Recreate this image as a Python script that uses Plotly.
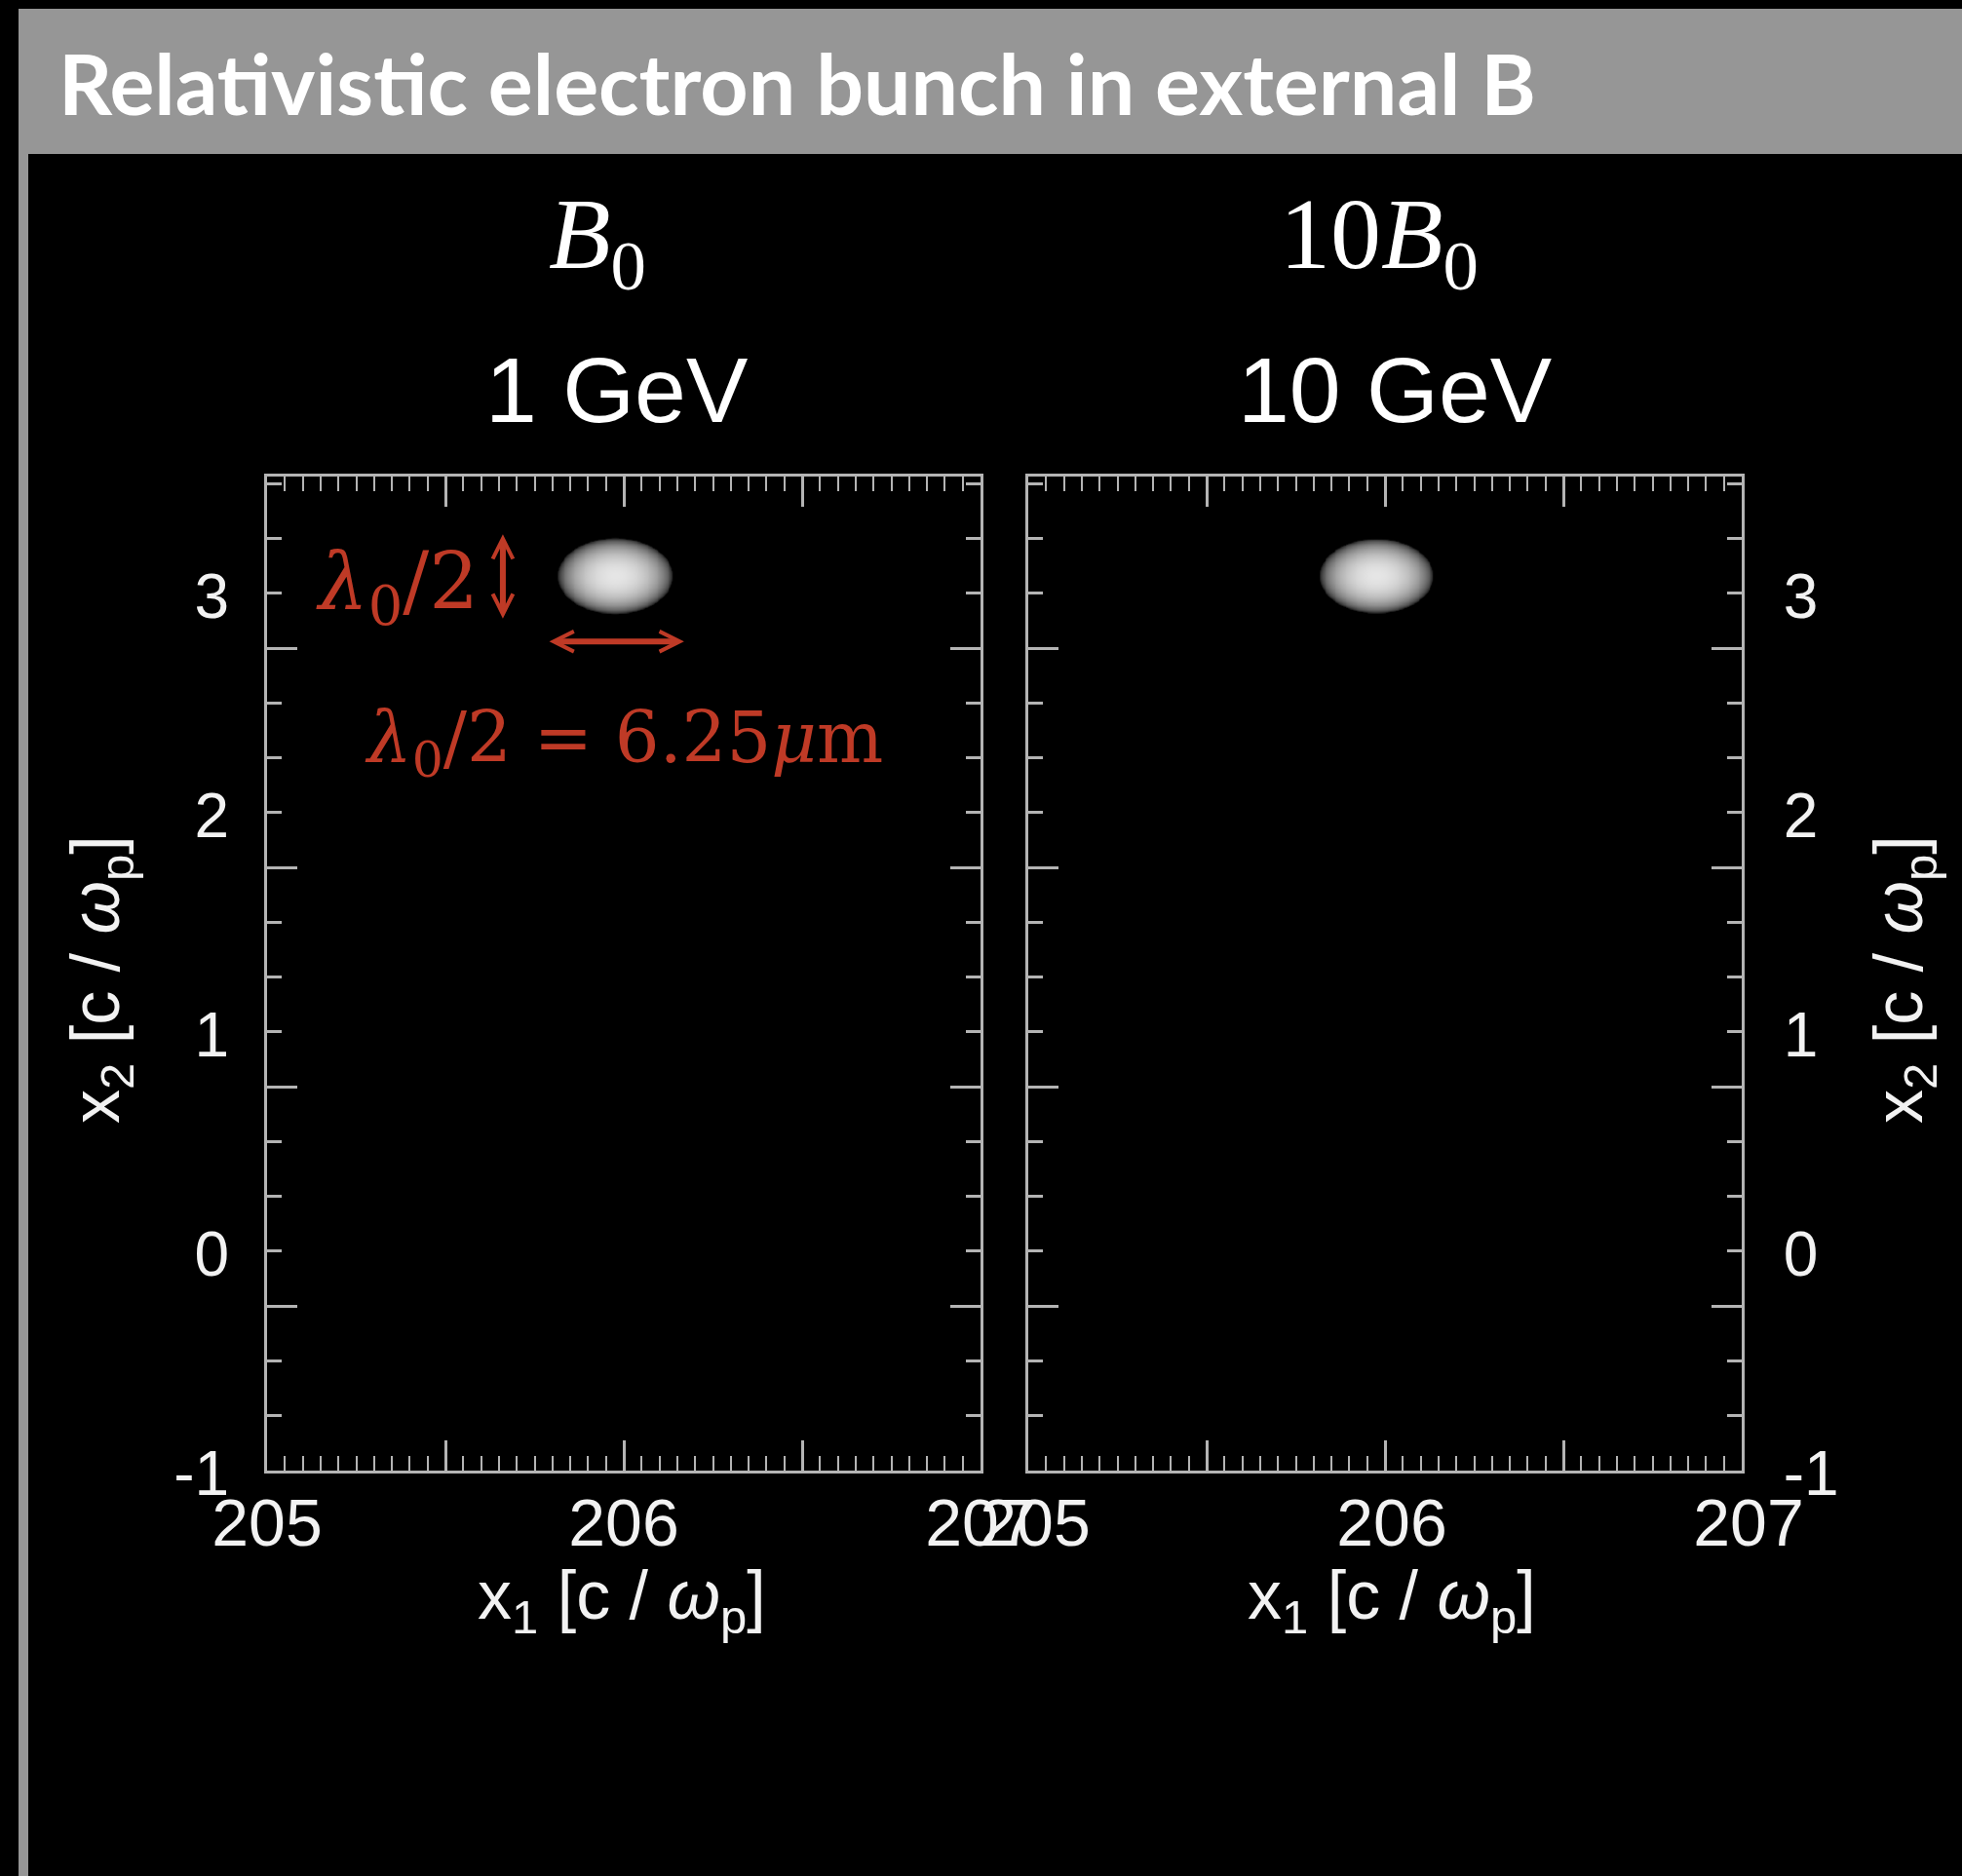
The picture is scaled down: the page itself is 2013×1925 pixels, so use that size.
import numpy as np
import plotly.graph_objects as go

W, H = 2013, 1925

# ---- text content -------------------------------------------------------
slide_title = "Relativistic electron bunch in external B"
field_labels = ["<i>B</i><sub>0</sub>", "10<i>B</i><sub>0</sub>"]
energy_labels = ["1 GeV", "10 GeV"]
x1_title = "x<sub>1</sub> [c / <i>ω</i><sub>p</sub>]"
x2_title = "x<sub>2</sub> [c / <i>ω</i><sub>p</sub>]"
size_label = "<i>λ</i><sub>0</sub>/2"
size_value_label = "<i>λ</i><sub>0</sub>/2 = 6.25<i>μ</i>m"

# ---- axes ---------------------------------------------------------------
x1_range = [205.0, 207.0]
x1_tick0, x1_major_step, x1_minor_step = 205.0, 0.5, 0.05

x2_range = [-1.0, 3.533]
x2_tick_vals = [-1.0, -0.75, -0.5, 0.0, 0.25, 0.5, 1.0, 1.25, 1.5,
                2.0, 2.25, 2.5, 3.0, 3.25, 3.5]
x2_tick_text = ["-1", "", "", "0", "", "", "1", "", "",
                "2", "", "", "3", "", ""]
x2_long_ticks = [-0.25, 0.75, 1.75, 2.75]

# ---- bunch charge density (centroid and semi-axes, c/ωp) ----------------
bunch_x1 = [205.975, 205.975]
bunch_x2 = [3.08, 3.08]
bunch_a1 = [0.162, 0.160]
bunch_a2 = [0.173, 0.170]
bunch_peak = [0.90, 0.90]

# ---- colours ------------------------------------------------------------
frame_col = "#b4b4b4"
label_col = "#f2f2f2"
red = "#bf3a26"
header_gray = "#969696"


def px(x):
    return x / W


def py(y):
    return 1 - y / H


fig = go.Figure()

for i in range(2):
    gx = np.linspace(bunch_x1[i] - 0.2, bunch_x1[i] + 0.2, 161)
    gy = np.linspace(bunch_x2[i] - 0.2, bunch_x2[i] + 0.2, 161)
    X, Y = np.meshgrid(gx, gy)
    r2 = ((X - bunch_x1[i]) / bunch_a1[i]) ** 2 + ((Y - bunch_x2[i]) / bunch_a2[i]) ** 2
    rho = bunch_peak[i] * np.sqrt(np.clip(1 - r2, 0, None))
    fig.add_trace(go.Heatmap(
        x=gx, y=gy, z=rho, zmin=0, zmax=1, zsmooth="best",
        colorscale=[[0, "black"], [1, "white"]], showscale=False,
        hoverinfo="skip",
        xaxis="x" if i == 0 else "x2", yaxis="y" if i == 0 else "y2",
    ))

panel_x = [[274, 1006], [1055, 1787]]
panel_y = [489, 1509]

xaxis_common = dict(
    range=x1_range, tickmode="linear", tick0=x1_tick0, dtick=x1_major_step,
    ticklabelstep=2,
    ticks="inside", ticklen=31, tickwidth=3, tickcolor=frame_col,
    showline=True, linecolor=frame_col, linewidth=3, mirror="ticks",
    minor=dict(tickmode="linear", tick0=x1_tick0, dtick=x1_minor_step, ticks="inside",
               ticklen=15, tickwidth=2, tickcolor=frame_col, showgrid=False),
    showgrid=False, zeroline=False, automargin=False,
    tickfont=dict(family="Liberation Sans", size=68, color=label_col),
    ticklabelstandoff=-8,
)
yaxis_common = dict(
    range=x2_range, tickmode="array", tickvals=x2_tick_vals, ticktext=x2_tick_text,
    ticks="inside", ticklen=15, tickwidth=3, tickcolor=frame_col,
    showline=True, linecolor=frame_col, linewidth=3, mirror="ticks",
    minor=dict(tickmode="array", tickvals=x2_long_ticks, ticks="inside",
               ticklen=31, tickwidth=3, tickcolor=frame_col, showgrid=False),
    showgrid=False, zeroline=False, automargin=False,
    tickfont=dict(family="Liberation Sans", size=64, color=label_col),
    ticklabelshift=3,
    domain=[py(panel_y[1]), py(panel_y[0])],
)

fig.update_layout(
    template="none",
    width=W, height=H, margin=dict(l=0, r=0, t=0, b=0, pad=0, autoexpand=False),
    paper_bgcolor="black", plot_bgcolor="black", showlegend=False,
    xaxis=dict(xaxis_common, domain=[px(panel_x[0][0]), px(panel_x[0][1])], anchor="y"),
    xaxis2=dict(xaxis_common, domain=[px(panel_x[1][0]), px(panel_x[1][1])], anchor="y2",
                ticklabelshift=7),
    yaxis=dict(yaxis_common, anchor="x", side="left", ticklabelstandoff=23),
    yaxis2=dict(yaxis_common, anchor="x2", side="right", ticklabelstandoff=27),
)

# slide header bar and left edge strip
fig.add_shape(type="rect", xref="paper", yref="paper", x0=px(19), x1=1.0,
              y0=py(158), y1=py(9), fillcolor=header_gray, line_width=0, layer="below")
fig.add_shape(type="rect", xref="paper", yref="paper", x0=px(19), x1=px(29),
              y0=0, y1=py(158), fillcolor=header_gray, line_width=0, layer="below")

ann = []
ann.append(dict(text=slide_title, x=px(58), y=py(84), xref="paper", yref="paper",
                xanchor="left", yanchor="middle", showarrow=False,
                font=dict(family="Lato", size=86, color="white", weight=700)))

head_cx = [613, 1415]
energy_cx = [632, 1431]
for i in range(2):
    ann.append(dict(text=field_labels[i], x=px(head_cx[i]), y=py(247), xref="paper",
                    yref="paper", xanchor="center", yanchor="middle", showarrow=False,
                    font=dict(family="Liberation Serif", size=104, color="white")))
    ann.append(dict(text=energy_labels[i], x=px(energy_cx[i]), y=py(400), xref="paper",
                    yref="paper", xanchor="center", yanchor="middle", showarrow=False,
                    font=dict(family="Liberation Sans", size=95, color="white")))

# axis titles
for cx in [638, 1428]:
    ann.append(dict(text=x1_title, x=px(cx), y=py(1642), xref="paper", yref="paper",
                    xanchor="center", yanchor="middle", showarrow=False,
                    font=dict(family="Liberation Sans", size=70, color=label_col)))
for cx in [103, 1953]:
    ann.append(dict(text=x2_title, x=px(cx), y=py(1005), xref="paper", yref="paper",
                    xanchor="center", yanchor="middle", showarrow=False, textangle=-90,
                    font=dict(family="Liberation Sans", size=70, color=label_col)))

# bunch size markers (left panel)
ann.append(dict(text=size_label, x=205.365, y=3.03, xref="x", yref="y",
                xanchor="center", yanchor="middle", showarrow=False,
                font=dict(family="DejaVu Serif", size=80, color=red)))
ann.append(dict(text=size_value_label, x=206.0, y=2.32, xref="x", yref="y",
                xanchor="center", yanchor="middle", showarrow=False,
                font=dict(family="DejaVu Serif", size=72, color=red)))
ann.append(dict(text="", x=205.661, y=3.270, ax=205.661, ay=2.879,
                xref="x", yref="y", axref="x", ayref="y", showarrow=True,
                arrowside="end+start", arrowhead=5, startarrowhead=5,
                arrowsize=0.68, startarrowsize=0.68, arrowwidth=6,
                arrowcolor=red, standoff=0, startstandoff=0))
ann.append(dict(text="", x=206.169, y=2.781, ax=205.787, ay=2.781,
                xref="x", yref="y", axref="x", ayref="y", showarrow=True,
                arrowside="end+start", arrowhead=5, startarrowhead=5,
                arrowsize=0.68, startarrowsize=0.68, arrowwidth=6,
                arrowcolor=red, standoff=0, startstandoff=0))

fig.update_layout(annotations=ann)

fig.write_html("out.html", config={"displayModeBar": False})
